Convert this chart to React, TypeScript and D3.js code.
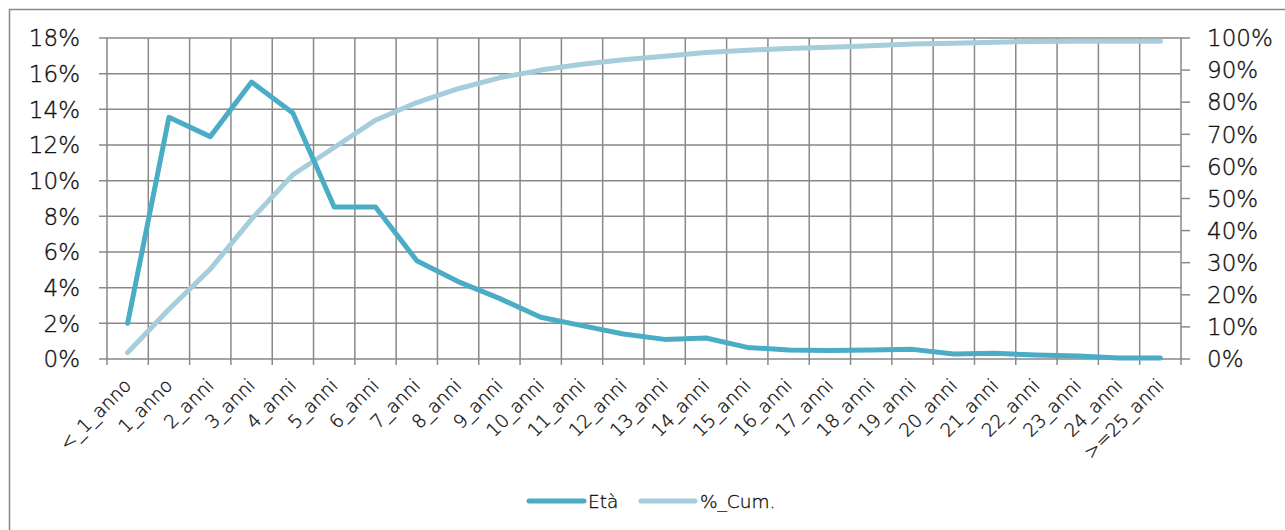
import React from "react";
import * as d3 from "d3";

// Age buckets on the x axis
const categories = [
  "<_1_anno", "1_anno", "2_anni", "3_anni", "4_anni", "5_anni", "6_anni",
  "7_anni", "8_anni", "9_anni", "10_anni", "11_anni", "12_anni", "13_anni",
  "14_anni", "15_anni", "16_anni", "17_anni", "18_anni", "19_anni", "20_anni",
  "21_anni", "22_anni", "23_anni", "24_anni", ">=25_anni",
];

// Share per age bucket (%), left axis
const etaValues = [
  2.0, 13.55, 12.47, 15.53, 13.8, 8.52, 8.52, 5.51, 4.34, 3.4, 2.34, 1.87, 1.4,
  1.1, 1.18, 0.65, 0.5, 0.47, 0.5, 0.54, 0.28, 0.32, 0.22, 0.17, 0.06, 0.06,
];

// Cumulative share (%), right axis
const cumValues = [
  2.0, 15.5, 28.0, 43.6, 57.4, 65.9, 74.4, 79.9, 84.2, 87.6, 90.0, 91.8, 93.2,
  94.3, 95.5, 96.2, 96.7, 97.1, 97.6, 98.1, 98.4, 98.7, 98.9, 99.0, 99.0, 99.0,
];

const leftTicks = [0, 2, 4, 6, 8, 10, 12, 14, 16, 18];
const rightTicks = [0, 10, 20, 30, 40, 50, 60, 70, 80, 90, 100];

const seriesNames = ["Età", "%_Cum."];

const W = 1285;
const H = 530;
const plot = { left: 107, right: 1181, top: 38, bottom: 359 };
const gridColor = "#898989";
const etaColor = "#4bacc6";
const cumColor = "#a6cddb";
const textColor = "#111";
const font = "'DejaVu Sans', 'Liberation Sans', sans-serif";

// thin outline to give the light face a little more body
const textStyle = { fill: textColor, stroke: textColor, strokeWidth: 0.35 };

export default function App() {
  const x = d3
    .scaleBand<string>()
    .domain(categories)
    .range([plot.left, plot.right])
    .paddingInner(0)
    .paddingOuter(0);
  const yL = d3.scaleLinear().domain([0, 18]).range([plot.bottom, plot.top]);
  const yR = d3.scaleLinear().domain([0, 100]).range([plot.bottom, plot.top]);
  const cx = (c: string) => (x(c) ?? 0) + x.bandwidth() / 2;

  const etaLine = d3
    .line<number>()
    .x((_, i) => cx(categories[i]))
    .y((d) => yL(d));
  const cumLine = d3
    .line<number>()
    .x((_, i) => cx(categories[i]))
    .y((d) => yR(d));

  const boundaries = [...categories.map((c) => x(c) ?? 0), plot.right];

  return (
    <svg
      width={W}
      height={H}
      style={{ position: "absolute", left: 0, top: 0, background: "#fff" }}
      fontFamily={font}
      fontWeight={300}
    >
      <rect x={9.5} y={9.5} width={W + 20} height={H + 20} fill="#fff" stroke={gridColor} strokeWidth={1.5} />

      {/* horizontal grid with left ticks */}
      {leftTicks.map((t) => (
        <line
          key={"h" + t}
          x1={plot.left - 8}
          x2={plot.right}
          y1={yL(t)}
          y2={yL(t)}
          stroke={gridColor}
          strokeWidth={1.5}
        />
      ))}
      {/* vertical grid with bottom ticks */}
      {boundaries.map((bx, i) => (
        <line
          key={"v" + i}
          x1={bx}
          x2={bx}
          y1={plot.top}
          y2={plot.bottom + 6}
          stroke={gridColor}
          strokeWidth={1.5}
        />
      ))}
      {/* right axis ticks */}
      {rightTicks.map((t) => (
        <line
          key={"r" + t}
          x1={plot.right}
          x2={plot.right + 9}
          y1={yR(t)}
          y2={yR(t)}
          stroke={gridColor}
          strokeWidth={1.5}
        />
      ))}

      {/* left axis labels */}
      {leftTicks.map((t) => (
        <text key={"lt" + t} x={80} y={yL(t)} dy="0.36em" textAnchor="end" fontSize={23} style={textStyle}>
          {t}%
        </text>
      ))}
      {/* right axis labels */}
      {rightTicks.map((t) => (
        <text key={"rt" + t} x={1207} y={yR(t)} dy="0.36em" textAnchor="start" fontSize={23} style={textStyle}>
          {t}%
        </text>
      ))}
      {/* category labels */}
      {categories.map((c) => (
        <text
          key={"c" + c}
          transform={`translate(${cx(c)},382) rotate(-45)`}
          dy="0.35em"
          textAnchor="end"
          fontSize={18.5}
          style={textStyle}
        >
          {c}
        </text>
      ))}

      {/* series */}
      <path d={cumLine(cumValues) ?? ""} fill="none" stroke={cumColor} strokeWidth={5} strokeLinecap="round" strokeLinejoin="round" />
      <path d={etaLine(etaValues) ?? ""} fill="none" stroke={etaColor} strokeWidth={5} strokeLinecap="round" strokeLinejoin="round" />

      {/* legend */}
      <g fontSize={18.5}>
        <line x1={529} x2={584} y1={501} y2={501} stroke={etaColor} strokeWidth={5} strokeLinecap="round" />
        <text x={588} y={501} dy="0.36em" style={textStyle}>{seriesNames[0]}</text>
        <line x1={641} x2={695} y1={501} y2={501} stroke={cumColor} strokeWidth={5} strokeLinecap="round" />
        <text x={700} y={501} dy="0.36em" style={textStyle}>{seriesNames[1]}</text>
      </g>
    </svg>
  );
}
